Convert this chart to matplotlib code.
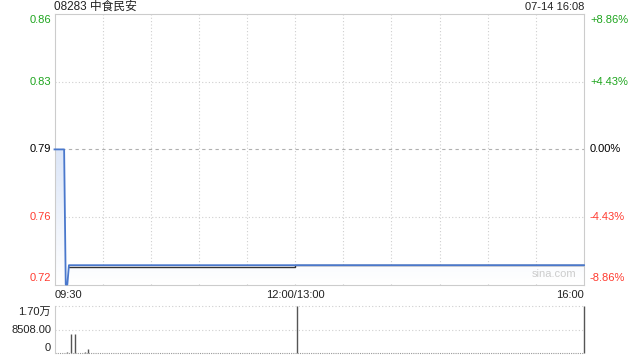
import numpy as np
import matplotlib
matplotlib.use('Agg')
import matplotlib.pyplot as plt
from matplotlib.colors import LinearSegmentedColormap

plt.rcParams['font.family'] = ['Liberation Sans', 'Noto Sans CJK SC', 'DejaVu Sans']

# datos del grafico
titulo = '08283 中食民安'
fecha = '07-14 16:08'
cierre_prev = 0.79
precio_horas = ['09:30', '09:36', '09:37', '09:38', '09:39', '12:00', '13:00', '16:00']
precio_vals = [0.79, 0.79, 0.72, 0.72, 0.73, 0.73, 0.73, 0.73]
media_horas = ['09:39', '12:00', '13:00', '16:00']
media_vals = [0.729, 0.729, 0.73, 0.73]
vol_horas = ['09:38', '09:40', '09:43', '09:49', '09:51', '13:01', '16:00']
vol_vals = [600, 7070, 7070, 400, 1400, 17016, 17016]
precio_ticks = [0.86, 0.825, 0.79, 0.755, 0.72]
precio_etiquetas = ['0.86', '0.83', '0.79', '0.76', '0.72']
pct_etiquetas = ['+8.86%', '+4.43%', '0.00%', '-4.43%', '-8.86%']
vol_max = 17016
vol_etiquetas = ['1.70万', '8508.00', '0']

FS = 8


def minuto(h):
    # minutos de negociacion desde 09:30 (pausa 12:00-13:00)
    hh, mm = map(int, h.split(':'))
    t = hh * 60 + mm
    if t >= 13 * 60:
        return 150 + t - 13 * 60
    return t - (9 * 60 + 30)


xp = [minuto(h) for h in precio_horas]
xm = [minuto(h) for h in media_horas]
xv = [minuto(h) for h in vol_horas]

W, H = 640, 360
fig = plt.figure(figsize=(6.4, 3.6), dpi=100)

L, R = 54.5, 584
T1, B1 = 14.3, 284.5
T2, B2 = 306, 353.3
ax = fig.add_axes([L / W, 1 - B1 / H, (R - L) / W, (B1 - T1) / H])
axv = fig.add_axes([L / W, 1 - B2 / H, (R - L) / W, (B2 - T2) / H])

lo, hi = precio_ticks[-1], precio_ticks[0]

# relleno degradado
poly = ax.fill_between(xp, precio_vals, lo, color='none', lw=0)
cmap = LinearSegmentedColormap.from_list('g', ['#ffffff', '#dce6f8'])
grad = np.linspace(0, 1, 100).reshape(-1, 1)
im = ax.imshow(grad, extent=[0, 330, lo, cierre_prev], origin='lower', aspect='auto',
               cmap=cmap, zorder=1)
im.set_clip_path(poly.get_paths()[0], transform=ax.transData)
ax.set_xlim(0, 330)
ax.set_ylim(lo, hi)

ax.plot(xm, media_vals, color='#333333', lw=1, zorder=3)
ax.plot(xp, precio_vals, color='#4a78cc', lw=1.3, zorder=4, clip_on=False)

# rejilla
for i in range(1, 11):
    ax.axvline(i * 30, color='#cfcfcf', lw=0.8, ls=(0, (1, 2)), zorder=0)
for v in precio_ticks[1:-1]:
    if v == cierre_prev:
        ax.axhline(v, color='#b0b0b0', lw=0.8, ls=(0, (3, 3)), zorder=0)
    else:
        ax.axhline(v, color='#cfcfcf', lw=0.8, ls=(0, (1, 2)), zorder=0)
for s in ax.spines.values():
    s.set_color('#cccccc')
ax.set_xticks([])
ax.set_yticks([])

# etiquetas del eje de precios
for v, et, pt in zip(precio_ticks, precio_etiquetas, pct_etiquetas):
    if v > cierre_prev:
        c = '#1ea51e'
    elif v < cierre_prev:
        c = '#ff3b30'
    else:
        c = '#000000'
    yv = ax.transData.transform((0, v))[1] / H
    off = 0
    if v == hi:
        off = -6 / H
    elif v == lo:
        off = 7 / H
    fig.text(51 / W, yv + off, et, ha='right', va='center', fontsize=FS, color=c)
    fig.text(590 / W, yv + off, pt, ha='left', va='center', fontsize=FS, color=c)

fig.text(L / W, 1 - 7 / H, titulo, ha='left', va='center', fontsize=8.5, color='#222222')
fig.text(R / W, 1 - 7 / H, fecha, ha='right', va='center', fontsize=FS, color='#222222')

ax.text(0.985, 0.02, 'sina.com', transform=ax.transAxes, ha='right', va='bottom',
        fontsize=FS, color='#cccccc')

fig.text(L / W, 1 - 295 / H, '09:30', ha='left', va='center', fontsize=FS, color='#222222')
fig.text((L + 5 * (R - L) / 11) / W, 1 - 295 / H, '12:00/13:00', ha='center', va='center',
         fontsize=FS, color='#222222')
fig.text(R / W, 1 - 295 / H, '16:00', ha='right', va='center', fontsize=FS, color='#222222')

# volumen
axv.set_xlim(0, 330)
axv.set_ylim(0, vol_max)
axv.vlines(xv, 0, vol_vals, color='#555555', lw=1, clip_on=False)
for v in [vol_max, vol_max / 2]:
    axv.axhline(v, color='#cfcfcf', lw=0.8, ls=(0, (1, 2)), clip_on=False)
axv.axhline(0, color='#999999', lw=0.8, ls=(0, (1, 1)), clip_on=False)
for k in ['top', 'right', 'bottom']:
    axv.spines[k].set_visible(False)
axv.spines['left'].set_color('#cccccc')
axv.set_xticks([])
axv.set_yticks([])
for txt, py in zip(vol_etiquetas, [312, 330, 348]):
    fig.text(51 / W, 1 - py / H, txt, ha='right', va='center', fontsize=FS, color='#222222')

fig.savefig('out.png', dpi=100)
